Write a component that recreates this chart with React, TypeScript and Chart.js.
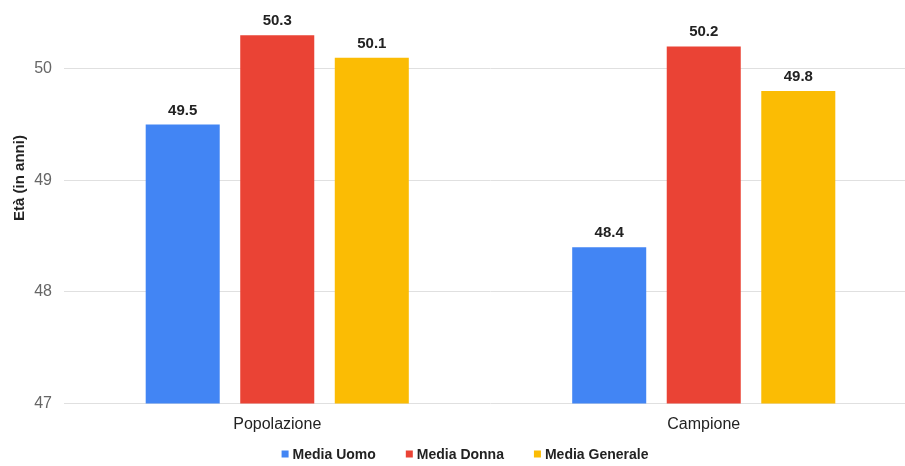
import React, { useEffect, useRef } from "react";
import { Chart, registerables } from "chart.js";

Chart.register(...registerables);

const categories = ["Popolazione", "Campione"];
const seriesNames = ["Media Uomo", "Media Donna", "Media Generale"];
const mediaUomo = [49.5, 48.4];
const mediaDonna = [50.3, 50.2];
const mediaGenerale = [50.1, 49.8];
const yTicks = [47, 48, 49, 50];
const yMin = 47;
const yMax = 50.5;
const yTitle = "Età (in anni)";
const seriesColors = ["#4285F4", "#EA4335", "#FBBC04"];

const FONT = "Arial, 'Liberation Sans', sans-serif";

const valueLabels = {
  id: "valueLabels",
  afterDatasetsDraw(chart: any) {
    const ctx = chart.ctx;
    ctx.save();
    ctx.font = `bold 15px ${FONT}`;
    ctx.fillStyle = "#222";
    ctx.textAlign = "center";
    ctx.textBaseline = "alphabetic";
    chart.data.datasets.forEach((ds: any, i: number) => {
      const meta = chart.getDatasetMeta(i);
      meta.data.forEach((el: any, j: number) => {
        ctx.fillText(Number(ds.data[j]).toFixed(1), el.x, el.y - 10);
      });
    });
    ctx.restore();
  },
};

const yTitlePlugin = {
  id: "yTitlePlugin",
  afterDraw(chart: any) {
    const ctx = chart.ctx;
    ctx.save();
    ctx.translate(20, 178);
    ctx.rotate(-Math.PI / 2);
    ctx.font = `bold 15px ${FONT}`;
    ctx.fillStyle = "#222";
    ctx.textAlign = "center";
    ctx.textBaseline = "middle";
    ctx.fillText(yTitle, 0, 0);
    ctx.restore();
  },
};

const legendPlugin = {
  id: "customLegend",
  afterDraw(chart: any) {
    const ctx = chart.ctx;
    ctx.save();
    ctx.font = `bold 14px ${FONT}`;
    ctx.textBaseline = "middle";
    ctx.textAlign = "left";
    const box = 7;
    const gapBoxText = 4;
    const gapItems = 30;
    const widths = seriesNames.map((n) => ctx.measureText(n).width);
    const total =
      widths.reduce((a, w) => a + box + gapBoxText + w, 0) + gapItems * (seriesNames.length - 1);
    let x = 465 - total / 2;
    const y = 454;
    seriesNames.forEach((n, i) => {
      ctx.fillStyle = seriesColors[i];
      ctx.fillRect(x, y - box / 2, box, box);
      x += box + gapBoxText;
      ctx.fillStyle = "#222";
      ctx.fillText(n, x, y + 1);
      x += widths[i] + gapItems;
    });
    ctx.restore();
  },
};

export default function App() {
  const ref = useRef<HTMLCanvasElement | null>(null);

  useEffect(() => {
    if (!ref.current) return;
    const seriesData = [mediaUomo, mediaDonna, mediaGenerale];
    const chart = new Chart(ref.current, {
      type: "bar",
      data: {
        labels: categories,
        datasets: seriesNames.map((name, i) => ({
          label: name,
          data: seriesData[i],
          backgroundColor: seriesColors[i],
          borderWidth: 0,
          categoryPercentage: 0.665,
          barPercentage: 0.783,
        })),
      },
      options: {
        responsive: false,
        animation: false,
        layout: { padding: { top: 13, bottom: 22.5, left: 0, right: 0 } },
        plugins: {
          legend: { display: false },
          tooltip: { enabled: false },
        },
        scales: {
          x: {
            grid: { display: false },
            border: { display: false },
            ticks: {
              font: { family: FONT, size: 16 },
              color: "#222",
              padding: 3,
            },
            afterFit(scale: any) {
              scale.height = 40;
              scale.paddingLeft = 0;
              scale.paddingRight = 0;
            },
          },
          y: {
            min: yMin,
            max: yMax,
            grid: { color: "#e0e0e0", drawTicks: false, lineWidth: 1 },
            border: { display: false },
            ticks: {
              font: { family: FONT, size: 16 },
              color: "#666",
              padding: 12,
            },
            afterBuildTicks(scale: any) {
              scale.ticks = yTicks.map((v) => ({ value: v }));
            },
            afterFit(scale: any) {
              scale.width = 64;
              scale.paddingTop = 0;
              scale.paddingBottom = 0;
            },
          },
        },
      },
      plugins: [valueLabels, yTitlePlugin, legendPlugin],
    });
    return () => chart.destroy();
  }, []);

  return (
    <div
      style={{
        position: "fixed",
        left: 0,
        top: 0,
        width: 905,
        height: 466,
        overflow: "hidden",
        background: "#fff",
      }}
    >
      <canvas ref={ref} width={917} height={466} />
    </div>
  );
}
